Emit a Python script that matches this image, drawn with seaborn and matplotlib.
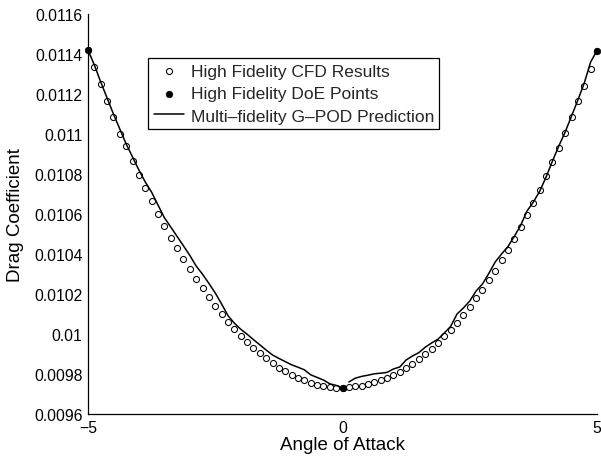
import numpy as np
import pandas as pd
import matplotlib
matplotlib.use("Agg")
import matplotlib.pyplot as plt
import seaborn as sns

# ---------------- data ----------------
angle = np.linspace(-5, 5, 81)  # -5:0.125:5 sampling grid

cfd_cd = [
    0.011420, 0.011335, 0.011250, 0.011167, 0.011087, 0.011002, 0.010939, 0.010865,
    0.010795, 0.010729, 0.010664, 0.010602, 0.010539, 0.010482, 0.010430, 0.010375,
    0.010324, 0.010275, 0.010229, 0.010183, 0.010142, 0.010099, 0.010062, 0.010025,
    0.009992, 0.009962, 0.009932, 0.009903, 0.009878, 0.009853, 0.009832, 0.009815,
    0.009797, 0.009782, 0.009768, 0.009757, 0.009745, 0.009739, 0.009734, 0.009732,
    0.009732,
    0.009735, 0.009739, 0.009742, 0.009749, 0.009759, 0.009770, 0.009782, 0.009797,
    0.009812, 0.009830, 0.009852, 0.009875, 0.009900, 0.009925, 0.009955, 0.009989,
    0.010022, 0.010057, 0.010095, 0.010136, 0.010178, 0.010222, 0.010268, 0.010314,
    0.010370, 0.010422, 0.010475, 0.010534, 0.010594, 0.010657, 0.010719, 0.010789,
    0.010862, 0.010928, 0.011005, 0.011083, 0.011165, 0.011239, 0.011327, 0.011417,
]

doe_angle = [-5, 0, 5]
doe_cd = [0.011420, 0.009732, 0.011417]

# G-POD prediction, left branch (-5 .. 0) and right branch (0.125 .. 5)
gpod_left = [
    0.011420, 0.011345, 0.011260, 0.011180, 0.011100, 0.011025, 0.010950, 0.010885,
    0.010820, 0.010760, 0.010709, 0.010645, 0.010582, 0.010535, 0.010488, 0.010441,
    0.010393, 0.010340, 0.010299, 0.010253, 0.010205, 0.010150, 0.010092, 0.010054,
    0.010024, 0.009999, 0.009972, 0.009946, 0.009920, 0.009895, 0.009878, 0.009862,
    0.009846, 0.009834, 0.009821, 0.009796, 0.009783, 0.009770, 0.009751, 0.009743,
    0.009732,
]
gpod_right = [
    0.009760, 0.009779, 0.009788, 0.009794, 0.009801, 0.009804, 0.009808, 0.009825,
    0.009835, 0.009870, 0.009890, 0.009907, 0.009934, 0.009955, 0.009974, 0.010005,
    0.010038, 0.010100, 0.010130, 0.010165, 0.010215, 0.010250, 0.010303, 0.010360,
    0.010400, 0.010437, 0.010488, 0.010543, 0.010615, 0.010660, 0.010714, 0.010785,
    0.010865, 0.010940, 0.011010, 0.011090, 0.011170, 0.011255, 0.011360, 0.011417,
]

x_ticks = [-5, 0, 5]
x_tick_labels = ["\u22125", "0", "5"]
y_ticks = [0.0096, 0.0098, 0.0100, 0.0102, 0.0104, 0.0106, 0.0108, 0.0110,
           0.0112, 0.0114, 0.0116]
y_tick_labels = ["0.0096", "0.0098", "0.01", "0.0102", "0.0104", "0.0106",
                 "0.0108", "0.011", "0.0112", "0.0114", "0.0116"]

labels = ["High Fidelity CFD Results", "High Fidelity DoE Points",
          "Multi\u2013fidelity G\u2013POD Prediction"]

# ---------------- frames ----------------
cfd_df = pd.DataFrame({"angle": angle, "cd": cfd_cd})
doe_df = pd.DataFrame({"angle": doe_angle, "cd": doe_cd})
n_left = len(gpod_left)
gpod_df = pd.DataFrame({
    "angle": angle,
    "cd": gpod_left + gpod_right,
    "seg": [0] * n_left + [1] * len(gpod_right),
})

# ---------------- style ----------------
sns.set_theme(style="white")
plt.rcParams["font.family"] = ["Liberation Sans", "DejaVu Sans"]
plt.rcParams["axes.unicode_minus"] = True

W, H = 601, 460
fig = plt.figure(figsize=(W / 100, H / 100), dpi=100)
ax = fig.add_axes([88 / W, 1 - 415 / H, (597 - 88) / W, (415 - 15) / H])

sns.scatterplot(data=cfd_df, x="angle", y="cd", ax=ax, marker="o",
                s=19, facecolor="white", edgecolor="black", linewidth=0.75,
                label=labels[0], zorder=2)
sns.scatterplot(data=doe_df, x="angle", y="cd", ax=ax, marker="o",
                s=22, color="black", edgecolor="black", linewidth=0.5,
                label=labels[1], zorder=4, clip_on=False)
sns.lineplot(data=gpod_df, x="angle", y="cd", units="seg", estimator=None,
             ax=ax, color="black", linewidth=1.1, label=labels[2], zorder=3)

ax.set_xlim(-5, 5)
ax.set_ylim(0.0096, 0.0116)
ax.set_xticks(x_ticks)
ax.set_xticklabels(x_tick_labels)
ax.set_yticks(y_ticks)
ax.set_yticklabels(y_tick_labels)

for side in ("top", "right"):
    ax.spines[side].set_visible(False)
for side in ("left", "bottom"):
    ax.spines[side].set_color("black")
    ax.spines[side].set_linewidth(0.9)

ax.tick_params(axis="both", direction="in", length=4, width=0.8,
               colors="black", labelsize=11.3, pad=4)
ax.set_xlabel("Angle of Attack", fontsize=13.5, color="black", labelpad=1)
ax.set_ylabel("Drag Coefficient", fontsize=13.5, color="black", labelpad=7)

# legend (deduplicated)
handles, labs = ax.get_legend_handles_labels()
seen = {}
for h, l in zip(handles, labs):
    if l not in seen:
        seen[l] = h
leg = ax.legend([seen[l] for l in labels], labels,
                loc="upper left", bbox_to_anchor=(148.3 / W, 1 - 59.3 / H),
                bbox_transform=fig.transFigure, borderaxespad=0,
                frameon=True, fancybox=False, shadow=False, framealpha=1,
                edgecolor="black", fontsize=12.5, handlelength=1.75,
                handletextpad=0.4, labelspacing=0.42, borderpad=0.3,
                scatterpoints=1)
leg.get_frame().set_linewidth(0.9)

fig.savefig("out.png", dpi=100)
